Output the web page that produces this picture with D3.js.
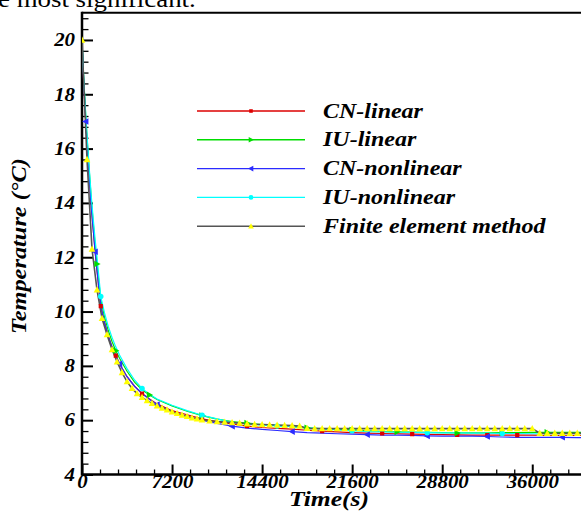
<!DOCTYPE html>
<html>
<head>
<meta charset="utf-8">
<script src="https://cdn.jsdelivr.net/npm/d3@7"></script>
<style>
  body { margin: 0; background: #fff; }
  svg { display: block; }
  text { font-family: "Liberation Serif", "Times New Roman", serif; }
</style>
</head>
<body>
<svg id="chart" width="581" height="518"></svg>
<script>
// Time grid (s) shared by the four finite-difference solutions
const tNum = [0, 150, 300, 450, 600, 750, 900, 1050, 1200, 1500, 1800, 2100, 2400, 2700, 3000,
  3600, 4200, 4800, 5400, 6000, 7200, 8400, 9600, 10800, 12000, 13200, 14400, 15600, 16800,
  18000, 19200, 20400, 21600, 22800, 24000, 25200, 26400, 27600, 28800, 30000, 31200, 32400,
  33600, 34800, 36000, 37200, 38400, 39600, 40800];

// Temperatures (°C)
const cnLinear = [20.0, 18.3, 17.0, 15.9, 14.8, 13.8, 13.0, 12.2, 11.5, 10.2, 9.6, 9.1, 8.7, 8.38, 8.08,
  7.6, 7.25, 6.98, 6.78, 6.6, 6.35, 6.2, 6.05, 5.95, 5.86, 5.78, 5.73, 5.7, 5.67,
  5.63, 5.6, 5.57, 5.54, 5.52, 5.51, 5.5, 5.49, 5.48, 5.47, 5.46, 5.45, 5.45,
  5.45, 5.45, 5.45, 5.44, 5.44, 5.44, 5.44];
const iuLinear = [20.0, 18.45, 17.2, 16.1, 15.05, 14.1, 13.25, 12.45, 11.75, 10.45, 9.8, 9.3, 8.9, 8.56, 8.28,
  7.8, 7.4, 7.12, 6.93, 6.76, 6.52, 6.33, 6.17, 6.04, 5.95, 5.89, 5.84, 5.8, 5.76,
  5.72, 5.69, 5.66, 5.64, 5.61, 5.59, 5.57, 5.56, 5.55, 5.54, 5.53, 5.53, 5.53,
  5.54, 5.54, 5.55, 5.55, 5.55, 5.55, 5.55];
const cnNonlinear = [20.0, 18.3, 17.0, 15.9, 14.8, 13.8, 13.0, 12.2, 11.5, 10.2, 9.6, 9.1, 8.7, 8.38, 8.08,
  7.6, 7.25, 6.98, 6.76, 6.58, 6.3, 6.12, 6.0, 5.88, 5.78, 5.71, 5.66, 5.62, 5.58,
  5.54, 5.52, 5.5, 5.49, 5.47, 5.45, 5.45, 5.44, 5.42, 5.41, 5.41, 5.41, 5.4,
  5.38, 5.37, 5.37, 5.37, 5.37, 5.36, 5.36];
const iuNonlinear = [20.0, 18.5, 17.25, 16.15, 15.15, 14.2, 13.4, 12.65, 12.0, 10.55, 9.95, 9.45, 9.05, 8.7, 8.4,
  7.9, 7.48, 7.17, 6.95, 6.78, 6.55, 6.35, 6.18, 6.05, 5.92, 5.86, 5.82, 5.79, 5.76,
  5.72, 5.68, 5.64, 5.61, 5.58, 5.57, 5.56, 5.55, 5.54, 5.53, 5.53, 5.52, 5.52,
  5.51, 5.51, 5.5, 5.5, 5.5, 5.5, 5.5];

// Finite element solution
const tFem = [0, 400, 800, 1200, 1600, 2000, 2400, 2800, 3200, 3600, 4000, 4400, 4800, 5200, 5600,
  6000, 6400, 6800, 7200, 7600, 8000, 8400, 8800, 9200, 9600,
  10200, 10800, 11400, 12000, 12600, 13200, 13800, 14400, 15000, 15600, 16200, 16800, 17400,
  18000, 18600, 19200, 19800, 20400, 21000, 21600, 22200, 22800, 23400, 24000, 24600, 25200,
  25800, 26400, 27000, 27600, 28200, 28800, 29400, 30000, 30600, 31200, 31800, 32400, 33000,
  33600, 34200, 34800, 35400, 36000, 36600, 37200, 37800, 38400, 39000, 39600, 40200, 40800,
  41400, 42000];
const fem = [20.0, 15.6, 12.3, 10.8, 9.75, 9.15, 8.6, 8.15, 7.75, 7.42, 7.17, 6.98, 6.84, 6.72, 6.62,
  6.53, 6.45, 6.38, 6.31, 6.25, 6.19, 6.14, 6.09, 6.05, 6.01,
  5.98, 5.95, 5.93, 5.91, 5.89, 5.87, 5.85, 5.84, 5.83, 5.82, 5.81, 5.8, 5.78,
  5.7, 5.69, 5.69, 5.69, 5.69, 5.69, 5.69, 5.69, 5.69, 5.69, 5.69, 5.69, 5.69,
  5.69, 5.69, 5.69, 5.69, 5.69, 5.69, 5.69, 5.69, 5.69, 5.69, 5.69, 5.69, 5.69,
  5.69, 5.69, 5.69, 5.69, 5.69, 5.52, 5.52, 5.52, 5.52, 5.52, 5.52, 5.52, 5.52,
  5.52, 5.52];

// Indices of the points that carry a symbol
const cnLinearMarks = [9, 13, 17, 22, 25, 30, 34, 36, 39, 41, 43];
const iuLinearMarks = [8, 13, 18, 22, 25, 29, 32, 35, 39, 42, 45];
const cnNonlinearMarks = [2, 7, 14, 19, 24, 28, 33, 37, 41, 46];
const iuNonlinearMarks = [9, 17, 22, 27, 32, 37, 42];

const seriesNames = ["CN-linear", "IU-linear", "CN-nonlinear", "IU-nonlinear", "Finite element method"];
const xMajor = [0, 7200, 14400, 21600, 28800, 36000];
const yMajor = [4, 6, 8, 10, 12, 14, 16, 18, 20];

const W = 581, H = 518;
const x0 = 82, yTop = 12.8, yBot = 474.5;
const x = d3.scaleLinear().domain([0, 43200]).range([x0, x0 + 6 * 90.05]);
const y = d3.scaleLinear().domain([4, 21]).range([yBot, yTop]);

const svg = d3.select("#chart");
const font = "'Liberation Serif', 'Times New Roman', serif";

// Running text of the page above the figure
svg.append("text").attr("transform", "translate(-2,7) scale(1.12,1)")
  .attr("font-size", 24).attr("font-family", font).attr("fill", "#000")
  .text("e most significant.");

svg.append("defs").append("clipPath").attr("id", "plotClip")
  .append("rect").attr("x", x0).attr("y", yTop).attr("width", W - x0).attr("height", yBot - yTop);

// minor ticks
const xMinor = d3.range(0, 43201, 1440).filter(v => v % 7200 !== 0);
const yMinor = d3.range(4, 21.01, 0.4).map(v => +v.toFixed(1)).filter(v => Math.abs(v / 2 - Math.round(v / 2)) > 1e-6);

const sx = 1.16; // horizontal stretch of the bold italic labels
const yAxisMinor = d3.axisLeft(y).tickValues(yMinor).tickSize(-6.5).tickFormat("");
const yAxisMajor = d3.axisLeft(y).tickValues(yMajor).tickSize(-11).tickPadding(7).tickFormat(d3.format("d"));
const xAxisMinor = d3.axisBottom(x).tickValues(xMinor).tickSize(-5).tickFormat("");
const xAxisMajor = d3.axisBottom(x).tickValues(xMajor).tickSize(-10).tickPadding(0.5).tickFormat(d3.format("d"));

function styleAxis(g, w) {
  g.select(".domain").remove();
  g.selectAll(".tick line").attr("stroke", "#000").attr("stroke-width", w);
  g.selectAll(".tick text").attr("font-family", font).attr("font-size", 18)
    .attr("font-weight", "bold").attr("font-style", "italic").attr("fill", "#000")
    .each(function () {
      const t = d3.select(this);
      t.attr("x", (+t.attr("x") || 0) / sx).attr("transform", `scale(${sx},1)`);
    });
}
svg.append("g").attr("transform", `translate(${x0},0)`).call(yAxisMinor).call(g => styleAxis(g, 1.3));
svg.append("g").attr("transform", `translate(${x0},0)`).call(yAxisMajor).call(g => styleAxis(g, 2));
svg.append("g").attr("transform", `translate(0,${yBot})`).call(xAxisMinor).call(g => styleAxis(g, 1.3));
svg.append("g").attr("transform", `translate(0,${yBot})`).call(xAxisMajor).call(g => styleAxis(g, 2));

// frame
svg.append("line").attr("x1", x0).attr("x2", W).attr("y1", yTop).attr("y2", yTop)
  .attr("stroke", "#000").attr("stroke-width", 2);
svg.append("line").attr("x1", x0).attr("x2", W).attr("y1", yBot).attr("y2", yBot)
  .attr("stroke", "#000").attr("stroke-width", 2.5);
svg.append("line").attr("x1", x0).attr("x2", x0).attr("y1", yTop - 1).attr("y2", yBot + 1.2)
  .attr("stroke", "#000").attr("stroke-width", 2.5);

// axis titles
svg.append("text").attr("transform", "translate(329,505.5) scale(1.22,1)").attr("text-anchor", "middle")
  .attr("font-family", font).attr("font-size", 21).attr("font-weight", "bold").attr("font-style", "italic")
  .text("Time(s)");
svg.append("text").attr("transform", "translate(26,246) rotate(-90) scale(1.16,1)").attr("text-anchor", "middle")
  .attr("font-family", font).attr("font-size", 21).attr("font-weight", "bold").attr("font-style", "italic")
  .text("Temperature (°C)");

// symbol shapes
const sym = {
  square: s => `M${-s / 2},${-s / 2}h${s}v${s}h${-s}Z`,
  triRight: s => `M${s * 0.6},0L${-s * 0.45},${-s * 0.55}L${-s * 0.45},${s * 0.55}Z`,
  triLeft: s => `M${-s * 0.6},0L${s * 0.45},${-s * 0.55}L${s * 0.45},${s * 0.55}Z`,
  triUp: s => `M0,${-s * 0.6}L${s * 0.55},${s * 0.45}L${-s * 0.55},${s * 0.45}Z`,
  circle: s => d3.arc()({ innerRadius: 0, outerRadius: s / 2, startAngle: 0, endAngle: 2 * Math.PI })
};

const series = [
  { name: seriesNames[0], t: tNum, v: cnLinear, marks: cnLinearMarks, color: "#dd0000", fill: "#dd0000", shape: "square", size: 4.2, lw: 1.2 },
  { name: seriesNames[1], t: tNum, v: iuLinear, marks: iuLinearMarks, color: "#00dd00", fill: "#00dd00", shape: "triRight", size: 6, lw: 1.2 },
  { name: seriesNames[2], t: tNum, v: cnNonlinear, marks: cnNonlinearMarks, color: "#2b2bff", fill: "#2b2bff", shape: "triLeft", size: 6, lw: 1.2 },
  { name: seriesNames[3], t: tNum, v: iuNonlinear, marks: iuNonlinearMarks, color: "#00ffff", fill: "#00ffff", shape: "circle", size: 5.5, lw: 1.2 },
  { name: seriesNames[4], t: tFem, v: fem, marks: tFem.map((_, i) => i), color: "#555555", fill: "#ffff00", shape: "triUp", size: 6, lw: 1.6 }
];

const plot = svg.append("g").attr("clip-path", "url(#plotClip)");
const line = d3.line().x(d => x(d[0])).y(d => y(d[1]));

series.forEach(s => {
  const pts = s.t.map((t, i) => [t, s.v[i]]);
  plot.append("path").datum(pts).attr("d", line)
    .attr("fill", "none").attr("stroke", s.color).attr("stroke-width", s.lw);
});
series.forEach(s => {
  plot.append("g").selectAll("path").data(s.marks).join("path")
    .attr("transform", i => `translate(${x(s.t[i])},${y(s.v[i])})`)
    .attr("d", sym[s.shape](s.size)).attr("fill", s.fill);
});

// legend
const legend = svg.append("g");
series.forEach((s, k) => {
  const ly = 111 + k * 28.8;
  legend.append("line").attr("x1", 197).attr("x2", 305).attr("y1", ly).attr("y2", ly)
    .attr("stroke", s.color).attr("stroke-width", 1.4);
  legend.append("path").attr("transform", `translate(251,${ly})`)
    .attr("d", sym[s.shape](s.size * 0.85)).attr("fill", s.fill);
  legend.append("text").attr("transform", `translate(323,${ly}) scale(1.2,1)`).attr("dy", "0.33em")
    .attr("font-family", font).attr("font-size", 20).attr("font-weight", "bold").attr("font-style", "italic")
    .text(s.name);
});
</script>
</body>
</html>
